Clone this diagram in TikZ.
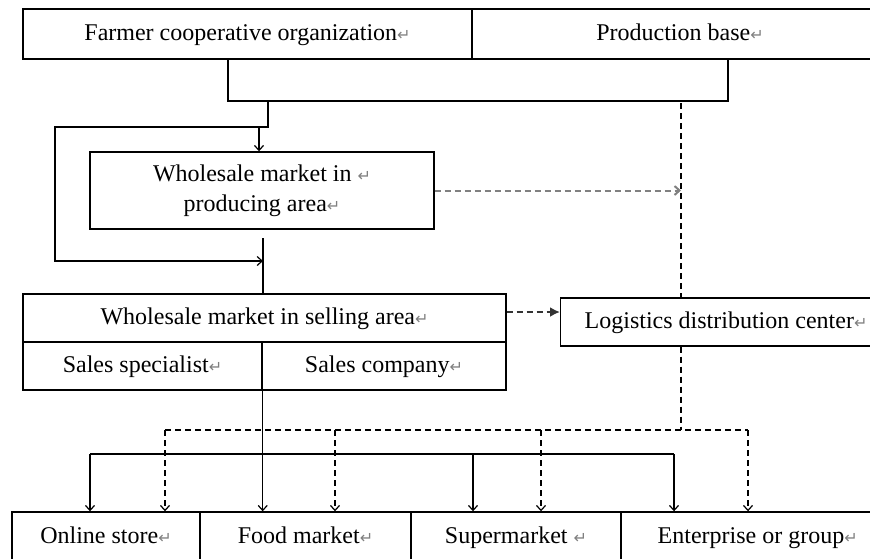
\documentclass[tikz,border=0pt]{standalone}
\usepackage{fontspec}
\setmainfont{Liberation Serif}
\newfontfamily\markfont{DejaVu Sans}
\usetikzlibrary{arrows.meta}
\newcommand{\pmark}{{\color{gray}\markfont\fontsize{8}{8}\selectfont ↵}}

\begin{document}
\begin{tikzpicture}[>={Straight Barb[length=2.5pt,width=4.5pt]}, x=0.5pt, y=-0.5pt]
        \tikzset{
            box/.style={draw, line width=0.7pt, inner sep=0pt, align=center,
                font=\fontsize{12}{15}\selectfont},
            tbox/.style={box, text height=8.5pt, text depth=2.5pt},
            line/.style={line width=0.6pt},
            dline/.style={line width=0.6pt, dash pattern=on 3pt off 2pt},
            gline/.style={line width=1pt, gray, dash pattern=on 3pt off 2pt}
        }
        \useasboundingbox (0,0) rectangle (870,558);
        \clip (0,0) rectangle (870,558);

        % suppliers
        \node[tbox, minimum width=224.5pt, minimum height=25pt] (farmer) at (247.5,34) {Farmer cooperative organization\pmark};
        \node[tbox, minimum width=208pt, minimum height=25pt] (base) at (680,34) {Production base\pmark};

        % wholesale
        \node[box, minimum width=172pt, minimum height=38.5pt] (prod) at (262,190.5) {Wholesale market in \pmark\\producing area\pmark};
        \node[tbox, minimum width=241.5pt, minimum height=24pt] (sell) at (264.5,318) {Wholesale market in selling area\pmark};
        \node[tbox, minimum width=119.5pt, minimum height=24pt] (spec) at (142.5,366) {Sales specialist\pmark};
        \node[tbox, minimum width=122pt, minimum height=24pt] (comp) at (384,366) {Sales company\pmark};
        \node[tbox, anchor=west, inner xsep=12pt, minimum height=24pt] (logi) at (560,322) {Logistics distribution center\pmark};

        % retail
        \node[tbox, minimum width=94pt, minimum height=25pt] (online) at (106,537) {Online store\pmark};
        \node[tbox, minimum width=105.5pt, minimum height=25pt] (food) at (305.5,537) {Food market\pmark};
        \node[tbox, minimum width=105pt, minimum height=25pt] (super) at (516,537) {Supermarket \pmark};
        \node[tbox, anchor=west, inner xsep=18pt, minimum height=25pt] (enter) at (621,537) {Enterprise or group\pmark};

        \coordinate (bl) at (228,101);
        \coordinate (br) at (728,101);
        \coordinate (ja) at (268,101);
        \coordinate (jb) at (259,127);
        \coordinate (lp) at (55,261);
        \coordinate (mid) at (263,238);
        \coordinate (dtop) at (681,103);
        \coordinate (dbot) at (681,430);

        \draw[line] (farmer.south -| bl) -- (bl) -- (br) -- (base.south -| br);
        \draw[line] (ja) |- (jb);
        \draw[line,->] (jb) -- (jb |- prod.north);
        \draw[line] (mid) -- (mid |- sell.north);
        \draw[line,->] (jb) -| (lp) -- (lp -| mid);

        \draw[dline] (dtop) -- (dtop |- logi.north);
        \draw[dline] (dtop |- logi.south) -- (dbot);
        \draw[gline,->] (prod.east) -- (prod.east -| dtop);
        \draw[gline,-{Latex[length=5pt,width=5pt]},black!80] ([yshift=3pt]sell.east) -- ([yshift=3pt]sell.east -| logi.west);

        % solid distribution
        \coordinate (sa) at (90,454);
        \coordinate (sb) at (674,454);
        \coordinate (sc) at (473,454);
        \draw[line] (sa) -- (sb);
        \draw[line,->] (sa) -- (sa |- online.north);
        \draw[line,->] (sc) -- (sc |- super.north);
        \draw[line,->] (sb) -- (sb |- enter.north);
        \draw[line,->] (spec.south east) -- (spec.south east |- food.north);

        % dashed distribution
        \coordinate (da) at (165,430);
        \coordinate (db) at (748,430);
        \coordinate (dc) at (335,430);
        \coordinate (dd) at (541,430);
        \draw[dline] (da) -- (db);
        \foreach \c/\t in {da/online, dc/food, dd/super, db/enter}
            \draw[dline,->] (\c) -- (\c |- \t.north);
\end{tikzpicture}
\end{document}
